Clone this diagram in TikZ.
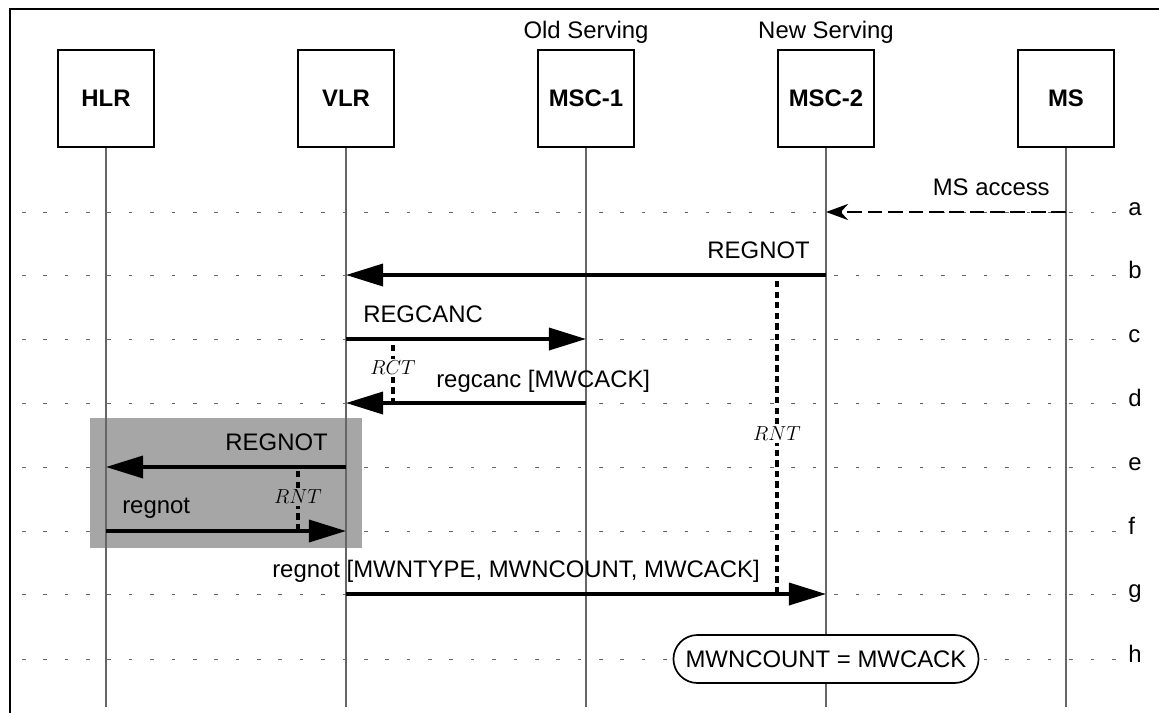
\documentclass[tikz,border=0pt]{standalone}
\usepackage{fontspec}
\setmainfont{Liberation Sans}
\usetikzlibrary{arrows.meta,shapes.misc}
\tikzset{
  ent/.style={draw,line width=1.6pt,minimum width=2.4cm,minimum height=2.425cm,
    font=\bfseries\fontsize{17}{20}\selectfont},
  life/.style={draw=black!60,line width=1.2pt},
  row/.style={draw=black!60,line width=0.7pt,dash pattern=on 2.5pt off 12.7pt},
  msg/.style={line width=2.5pt,-{Triangle[length=0.925cm,width=0.55cm]}},
  txt/.style={inner sep=0pt,font=\fontsize{17}{20}\selectfont},
  timer/.style={line width=2.4pt,dash pattern=on 4.5pt off 3pt},
  tname/.style={inner sep=1.5pt,font=\fontsize{15}{18}\selectfont},
}
\begin{document}
\begin{tikzpicture}[x=0.025cm,y=-0.025cm]
  \useasboundingbox (0,0) rectangle (1159,713);
  \draw[line width=2pt] (10,713) -- (10,9) -- (1159,9);
  \draw
    (106,98.5) node[ent] (HLR){HLR}
    (346,98.5) node[ent] (VLR){VLR}
    (586,98.5) node[ent] (MSC1){MSC-1}
    (826,98.5) node[ent] (MSC2){MSC-2}
    (1066,98.5) node[ent] (MS){MS};
  \node[txt,anchor=base] (old) at (586,38) {Old Serving};
  \node[txt,anchor=base] (new) at (826,38) {New Serving};
  \coordinate (bottom) at (0,707);
  \coordinate (rowstart) at (22,0);
  \coordinate (rowend) at (1117,0);
  \draw
    (1128,212) node[txt,anchor=mid west] (a){a}
    (1128,275) node[txt,anchor=mid west] (b){b}
    (1128,339) node[txt,anchor=mid west] (c){c}
    (1128,403) node[txt,anchor=mid west] (d){d}
    (1128,467) node[txt,anchor=mid west] (e){e}
    (1128,531) node[txt,anchor=mid west] (f){f}
    (1128,594) node[txt,anchor=mid west] (g){g}
    (1128,659) node[txt,anchor=mid west] (h){h};
  \begin{scope}[row]
    \draw (rowstart |- a.mid) -- (rowend |- a.mid);
    \draw (rowstart |- b.mid) -- (rowend |- b.mid);
    \draw (rowstart |- c.mid) -- (rowend |- c.mid);
    \draw (rowstart |- d.mid) -- (rowend |- d.mid);
    \draw (rowstart |- e.mid) -- (rowend |- e.mid);
    \draw (rowstart |- f.mid) -- (rowend |- f.mid);
    \draw (rowstart |- g.mid) -- (rowend |- g.mid);
    \draw (rowstart |- h.mid) -- (rowend |- h.mid);
  \end{scope}
  \node[fill=black!35,minimum width=6.8cm,minimum height=3.25cm,inner sep=0pt] (grp) at (226,483) {};
  \begin{scope}[life]
    \draw (HLR.south) -- (HLR |- bottom);
    \draw (VLR.south) -- (VLR |- bottom);
    \draw (MSC1.south) -- (MSC1 |- bottom);
    \draw (MSC2.south) -- (MSC2 |- bottom);
    \draw (MS.south) -- (MS |- bottom);
  \end{scope}
  \draw[line width=2.1pt,dash pattern=on 10.5pt off 4pt,-{Stealth[length=0.55cm,width=0.4cm]}]
    (MS |- a.mid) -- (MSC2 |- a.mid);
  \node[txt,anchor=base east] (msacc) at (1050,195) {MS access};
  \draw[msg] (MSC2 |- b.mid) -- (VLR |- b.mid);
  \node[txt,anchor=base east] (regnot1) at (810,258) {REGNOT};
  \draw[msg] (VLR |- c.mid) -- (MSC1 |- c.mid);
  \node[txt,anchor=base west] (regcanc1) at (363,322) {REGCANC};
  \draw[msg] (MSC1 |- d.mid) -- (VLR |- d.mid);
  \node[txt,anchor=base west] (regcanc2) at (436,387) {regcanc [MWCACK]};
  \draw[msg] (VLR |- e.mid) -- (HLR |- e.mid);
  \node[txt,anchor=base east] (regnot2) at (328,450) {REGNOT};
  \draw[msg] (HLR |- f.mid) -- (VLR |- f.mid);
  \node[txt,anchor=base west] (regnot3) at (122,513) {regnot};
  \draw[msg] (VLR |- g.mid) -- (MSC2 |- g.mid);
  \node[txt,anchor=base west] (regnot4) at (272,577) {regnot [MWNTYPE, MWNCOUNT, MWCACK]};
  \coordinate (rct) at (393,345);
  \coordinate (rnt1) at (777,281);
  \coordinate (rnt2) at (298,471);
  \draw[timer] (rct) -- (rct |- d.mid);
  \draw[timer] (rnt1) -- (rnt1 |- g.mid);
  \draw[timer] (rnt2) -- (rnt2 |- f.mid);
  \node[tname,fill=white] (rctl) at (393,368) {$RCT$};
  \node[tname,fill=white] (rntl1) at (777,434) {$RNT$};
  \node[tname,fill=black!35] (rntl2) at (298,497) {$RNT$};
  \node[txt,rounded rectangle,draw,line width=1.2pt,fill=white,minimum width=7.625cm,
    minimum height=1.2cm] (cnt) at (MSC2 |- h.mid) {MWNCOUNT = MWCACK};
\end{tikzpicture}
\end{document}
